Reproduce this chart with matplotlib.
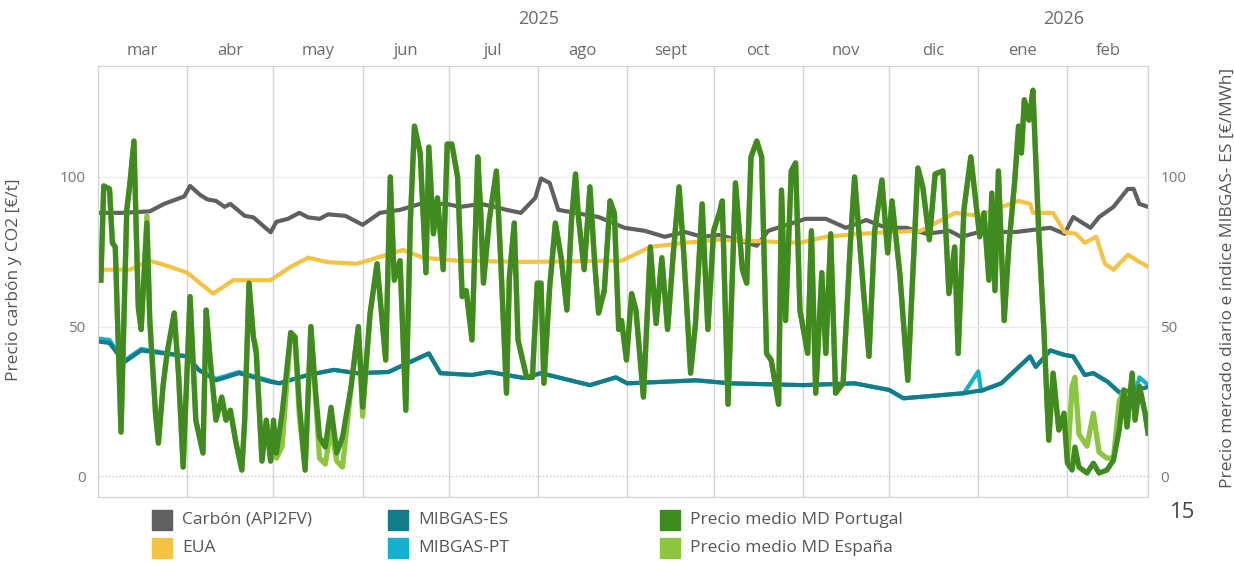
import numpy as np
import pandas as pd
import matplotlib
matplotlib.use("Agg")
import matplotlib.pyplot as plt
import matplotlib.dates as mdates
from matplotlib.patches import Rectangle

plt.rcParams['font.family'] = ['Open Sans', 'DejaVu Sans']

START = pd.Timestamp("2025-03-01")
END = pd.Timestamp("2026-03-01")

month_labels = ["mar", "abr", "may", "jun", "jul", "ago", "sept", "oct", "nov", "dic", "ene", "feb"]

# days since 1 Mar 2025 -> value
carbon_days = [0, 8, 18, 23, 30, 32, 35.5, 38, 41, 44, 46, 51, 54, 57, 60, 62, 66, 70, 73, 77, 80,
               86, 89, 92, 98, 105, 112, 121, 126, 133, 138, 142, 147, 152, 154, 157, 160, 174,
               183, 190, 197, 204, 210, 216, 222, 229, 233, 246, 253, 260, 267, 274, 281, 288,
               296, 300, 306.5, 319, 331, 336, 339, 345, 348, 353, 358, 360, 362, 365]
carbon_vals = [88, 88, 88.5, 91, 93.5, 97, 94, 92.5, 92, 90, 91, 87, 86.5, 84, 81.5, 85, 86, 88, 86.5,
               86, 87.5, 87, 85.5, 84, 88, 89, 91, 91, 90, 91, 90, 89, 88, 93, 99.5, 98, 89,
               86.6, 83, 82, 80, 81.6, 80, 80.6, 79, 77, 82, 86, 86, 83, 85.6, 83, 83, 81,
               82, 80, 81.6, 81.6, 83, 81, 86.6, 83, 86.6, 90, 96, 96, 91, 90]

eua_days = [0, 11, 18, 25, 31, 40, 47, 60, 67, 73, 80, 90, 97, 106, 113, 125, 148, 182, 192, 204,
            216, 244, 253, 265, 276, 286, 298, 306, 313, 320, 324, 325, 332, 336, 340, 343, 347,
            350, 353, 358, 362, 365]
eua_vals = [69, 69, 72, 70, 68, 61, 65.5, 65.5, 70, 73, 71.5, 71, 73, 75.6, 73, 72, 71.6, 72, 76.6,
            78, 79, 78, 80, 81, 81.6, 82, 88, 87, 89.6, 92, 91, 88, 88, 81.6, 81, 78, 80, 71,
            69, 74, 71.6, 70]

gas_days = [0, 4, 9, 15, 31, 35, 41, 49, 60, 63, 73, 82, 90, 101, 110, 115, 119, 130, 136, 148,
            154, 171, 180, 184, 208, 220, 245, 263, 275, 280, 301, 306, 307, 314, 324, 326, 331,
            336, 339, 343, 346, 351, 355, 361, 362, 365]
mibgas_es = [45, 44.5, 38, 42, 40, 35.5, 32, 34.4, 31.5, 31, 33.8, 35.5, 34.4, 34.8, 38.8, 41, 34.4,
             33.8, 34.8, 32.8, 34.4, 30.4, 33, 31, 32, 31, 30.4, 31, 28.8, 26, 27.7, 28.5, 28.5,
             31, 40, 36.5, 42, 40.5, 40, 33.8, 34.4, 31.5, 28, 29, 29, 29.8]
mibgas_pt = [46, 45.5, 38.5, 42.5, 40, 35.5, 32.5, 34.8, 31.8, 31, 33.8, 35.5, 34.4, 34.8, 38.8, 41, 34.4,
             33.8, 34.8, 32.8, 34.4, 30.4, 33, 31, 32, 31, 30.4, 31, 28.8, 26, 27.7, 35, 28.5,
             31, 40, 36.5, 42, 40.5, 40, 33.8, 34.4, 31.5, 28, 29, 33, 30.5]

md_days = [1, 2, 4, 5, 6, 8, 10, 11, 12.5, 13, 14, 15, 17, 18, 20, 21, 22.6, 24, 26.5, 28,
           29.6, 30.6, 32, 34, 36.5, 37.6, 39, 41, 43, 44.5, 46, 48, 50, 51, 52.5, 54, 55, 57,
           58.5, 60, 61, 62, 64, 67, 68.5, 70, 72, 74, 75.5, 77, 79, 81, 83, 85, 88, 90.5,
           92, 94.6, 97, 100, 101.6, 103, 105, 107, 108.6, 110, 112, 114, 115, 116.6, 118, 120,
           121.4, 123, 125, 126.6, 128, 130, 132, 133, 134, 136, 138.5, 140, 142, 143, 144.7,
           146, 149, 151, 152.7, 154, 155, 157, 159, 161, 163, 164.6, 166, 167, 169, 171,
           172.6, 174, 176, 178, 179.5, 181, 182, 183.7, 185.5, 187, 189.6, 192, 194, 196, 198,
           200, 202, 203.6, 206, 207.7, 210, 212, 214, 216, 217, 219, 221.6, 224, 225.5, 227,
           229, 230.7, 232.4, 234, 236.6, 237.6, 239, 241, 242.5, 244, 246.7, 248, 249.5,
           251.6, 253, 254.7, 256.4, 259, 261.6, 263, 266, 268, 270, 272.5, 274.5, 276, 278.7,
           281.5, 285, 286.7, 289, 291, 293.7, 295.8, 297.8, 299, 301, 303.4, 305, 306.5, 308,
           309.7, 310.7, 311.8, 313, 315, 316.6, 318.7, 320, 321, 322, 323.6, 325, 327, 328.8,
           330.5, 332, 334, 335.8, 337, 338.6, 339.6, 341, 343.8, 346, 348, 350.7, 353, 355,
           356.6, 357.7, 359.5, 360.5, 362, 364, 365]
md_portugal = [65.5, 97, 96, 78, 76.6, 14.7, 89, 97, 112, 93, 56.5, 49, 84.6, 52, 21, 11, 30, 41, 54.5, 34,
               3, 26.4, 60, 18.7, 7.7, 55.5, 38.8, 18.7, 26.4, 18.7, 22, 11, 2, 18.7, 64.5, 46.5, 41, 5,
               18.7, 5, 18.7, 7.7, 21, 48, 46.5, 24, 2, 50, 30, 13, 9.7, 23, 7.7, 13, 30, 50,
               23, 54.5, 71, 38.8, 100, 65.5, 72, 22, 85.6, 117, 108, 68, 110, 81, 93, 69,
               111, 111, 100, 60, 62, 45.5, 106.7, 89, 64.5, 85.6, 102, 72, 27.7, 66.5, 84.6,
               45.5, 33, 33, 64.5, 64.5, 31, 63, 84.6, 73, 55.5, 85.6, 101, 86.6, 69, 96.7,
               72, 54.5, 62, 92, 88, 49, 52, 38.8, 61, 55.5, 26.4, 76.6, 51, 73, 49,
               74.6, 96.7, 74.6, 34.4, 51, 91, 49, 82, 88, 92, 24, 98, 69, 64.5, 106.7,
               112, 106.7, 41, 38.8, 24, 95.6, 52, 102, 104.7, 55.5, 41, 82, 27.7,
               68, 41, 81, 27.7, 31, 79, 100, 63, 40, 82, 99, 74.6, 92, 68,
               32, 103, 96.7, 79, 101, 102, 61, 76.6, 41, 89, 106.7, 93, 80, 88,
               65.5, 94.6, 62, 102, 52, 76.6, 99, 117, 108, 125.8, 119, 129, 82, 49,
               12, 34.4, 15.4, 21, 4.3, 2, 9.7, 3, 1, 4.3, 1, 2, 5.3, 15.4,
               28.8, 16.4, 34.4, 18.7, 30, 21, 14.4]
md_espana = [65.5, 97, 96, 78, 76.6, 14.7, 89, 97, 112, 93, 56.5, 49, 87, 52, 21, 11, 30, 41, 54.5, 34,
             3, 26.4, 60, 18.7, 7.7, 55.5, 38.8, 18.7, 26.4, 18.7, 22, 11, 2, 18.7, 64.5, 46.5, 43, 5,
             18.7, 5, 13, 6, 10, 48, 46.5, 20, 2, 50, 28, 6, 4, 16, 5, 3, 30, 50,
             20, 54.5, 71, 38.8, 100, 65.5, 72, 22, 85.6, 117, 108, 68, 110, 81, 93, 69,
             111, 111, 100, 60, 62, 45.5, 106.7, 89, 64.5, 85.6, 102, 72, 27.7, 66.5, 84.6,
             45.5, 33, 33, 64.5, 64.5, 31, 63, 84.6, 73, 55.5, 85.6, 101, 86.6, 69, 96.7,
             72, 54.5, 62, 92, 88, 49, 52, 38.8, 61, 55.5, 26.4, 76.6, 51, 73, 49,
             74.6, 96.7, 74.6, 34.4, 51, 91, 49, 82, 88, 92, 24, 98, 69, 64.5, 106.7,
             112, 106.7, 41, 38.8, 24, 95.6, 52, 102, 104.7, 55.5, 41, 82, 27.7,
             68, 41, 81, 27.7, 31, 79, 100, 63, 40, 82, 99, 74.6, 92, 68,
             32, 103, 96.7, 79, 101, 102, 61, 76.6, 41, 89, 106.7, 93, 80, 88,
             65.5, 94.6, 62, 102, 52, 76.6, 99, 117, 108, 125.8, 119, 129, 82, 49,
             12, 34.4, 15.4, 21, 4.3, 30, 33, 14, 10, 21, 8, 6, 6, 25,
             28.8, 16.4, 34.4, 18.7, 30, 21, 14.4]

C_CARBON = "#606062"
C_EUA = "#f6c242"
C_ES = "#137c89"
C_PT = "#12b2cf"
C_MDPT = "#408b1f"
C_MDES = "#8cc63e"

def to_x(days):
    return mdates.date2num(START) + np.asarray(days, dtype=float)

W, H = 1234, 565
fig = plt.figure(figsize=(W / 100, H / 100), dpi=100)
ax = fig.add_axes([98 / W, 1 - 497 / H, 1050 / W, 431 / H])
ax2 = ax.twinx()

ylim = (-7.0, 137.1)
for a in (ax, ax2):
    a.set_ylim(*ylim)
    a.set_xlim(mdates.date2num(START), mdates.date2num(END))

ax.plot(to_x(carbon_days), carbon_vals, color=C_CARBON, lw=3.0, solid_capstyle='round')
ax.plot(to_x(eua_days), eua_vals, color=C_EUA, lw=3.0, solid_capstyle='round')
ax2.plot(to_x(gas_days), mibgas_pt, color=C_PT, lw=3.0, solid_capstyle='round')
ax2.plot(to_x(gas_days), mibgas_es, color=C_ES, lw=3.0, solid_capstyle='round')
ax2.plot(to_x(md_days), md_espana, color=C_MDES, lw=3.8, solid_joinstyle='round')
ax2.plot(to_x(md_days), md_portugal, color=C_MDPT, lw=3.8, solid_joinstyle='round')

# month grid and top labels
month_starts = pd.date_range(START, END, freq="MS")
month_mid = [s + (e - s) / 2 for s, e in zip(month_starts[:-1], month_starts[1:])]
ax.set_xticks(mdates.date2num(month_starts))
ax.set_xticklabels([])
ax.set_xticks(mdates.date2num(month_mid), minor=True)
ax.set_xticklabels(month_labels, minor=True)
ax.xaxis.tick_top()
ax.tick_params(axis='x', which='both', length=0, pad=5, labelsize=12, labelcolor="#6b6b6b")
ax.grid(axis='x', which='major', color="#d2d2d2", lw=1.0)
ax2.tick_params(axis='x', which='both', length=0, labeltop=False, labelbottom=False)

# horizontal reference lines
ax.set_yticks([0, 50, 100])
ax2.set_yticks([0, 50, 100])
ax.grid(axis='y', color="#ececec", lw=1.0)
ax.get_ygridlines()[0].set_linestyle((0, (1, 1.5)))
ax.get_ygridlines()[0].set_color("#c8c8c8")
ax.set_axisbelow(True)

for a in (ax, ax2):
    a.tick_params(axis='y', length=0, labelsize=11, labelcolor="#777777", pad=9)
    for sp in a.spines.values():
        sp.set_color("#d4d4d4")

ax.set_ylabel("Precio carbón y CO2 [€/t]", fontsize=12.5, color="#555555")
ax.yaxis.set_label_coords((22 - 98) / 1050, (497 - 280) / 431)
ax2.set_ylabel("Precio mercado diario e índice MIBGAS- ES [€/MWh]", fontsize=12.5, color="#555555")
ax2.yaxis.set_label_coords((1220 - 98) / 1050, (497 - 278) / 431)

# year labels
x_2025 = mdates.date2num(START + (pd.Timestamp("2026-01-01") - START) / 2)
x_2026 = mdates.date2num(pd.Timestamp("2026-01-01") + (END - pd.Timestamp("2026-01-01")) / 2)
trans = ax.get_xaxis_transform()
ax.text(x_2025, (497 - 19) / 431, "2025", transform=trans, ha='center', va='center', fontsize=13, color="#6b6b6b")
ax.text(x_2026, (497 - 19) / 431, "2026", transform=trans, ha='center', va='center', fontsize=13, color="#6b6b6b")

# legend, laid out as in the source
legend_items = [("Carbón (API2FV)", C_CARBON, 152, 520), ("EUA", C_EUA, 152, 548),
                ("MIBGAS-ES", C_ES, 388, 520), ("MIBGAS-PT", C_PT, 388, 548),
                ("Precio medio MD Portugal", C_MDPT, 660, 520), ("Precio medio MD España", C_MDES, 660, 548)]
for label, col, px, py in legend_items:
    fig.add_artist(Rectangle((px / W, 1 - (py + 10) / H), 20 / W, 20 / H, color=col,
                             transform=fig.transFigure))
    fig.text((px + 30) / W, 1 - py / H, label, fontsize=12.5, color="#555555", va='center')

fig.text(1183 / W, 1 - 513 / H, "15", fontsize=16, color="#444444", ha='center', va='center')

fig.savefig("out.png", dpi=100)
